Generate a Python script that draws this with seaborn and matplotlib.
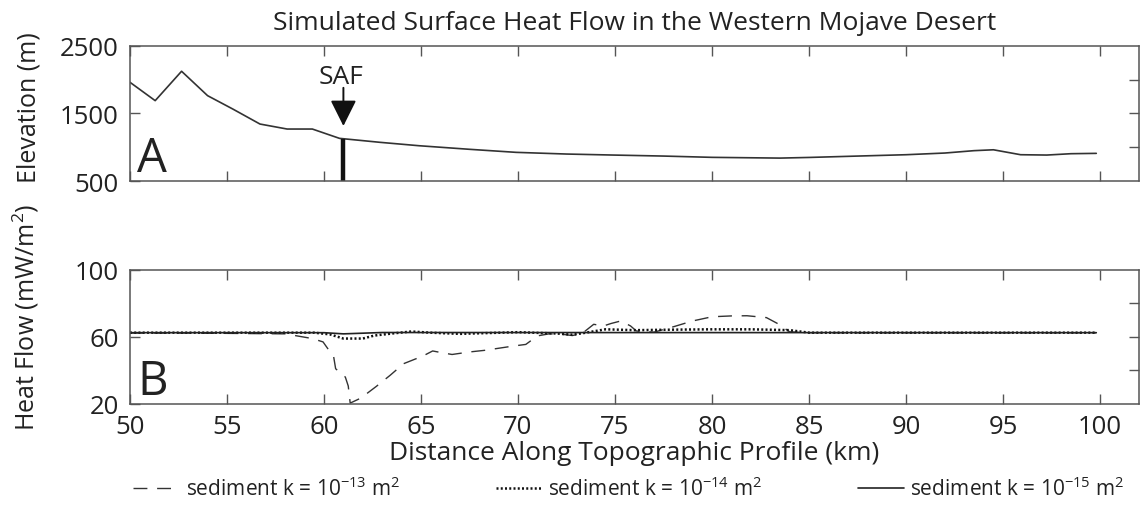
import numpy as np
import pandas as pd
import matplotlib
matplotlib.use("Agg")
import matplotlib.pyplot as plt
import seaborn as sns

# ---------------- data ----------------
elev_km = [50.0, 51.3, 52.66, 54.0, 55.3, 56.7, 58.1, 59.4, 60.8, 62.9, 64.9, 67.5,
           69.9, 72.5, 74.9, 77.5, 80.0, 83.5, 85.05, 87.5, 90.0, 92.0, 93.5, 94.5,
           95.9, 97.25, 98.5, 99.8]
elev_m = [1962, 1690, 2125, 1764, 1566, 1344, 1270, 1270, 1132, 1073, 1023, 970,
          925, 900, 885, 870, 851, 840, 850, 870, 890, 915, 950, 963,
          890, 885, 905, 910]

saf_km = 61.0
saf_elev = 1120

hf13_km = [50, 53, 56, 58, 59.4, 59.95, 60.5, 60.6, 61.1, 61.25, 61.35, 61.9, 62.7,
           63.4, 64.1, 65.1, 65.6, 66.1, 66.6, 67.5, 68.3, 69.8, 70.4, 71.0, 71.6,
           72.3, 72.8, 73.3, 73.9, 74.4, 74.8, 75.3, 75.8, 76.1, 77.0, 78.0, 79.0,
           80.0, 81.0, 81.8, 82.8, 83.4, 84.0, 85, 90, 95, 99.8]
hf13 = [62.3, 62.3, 62.0, 61.8, 59.0, 57.0, 48.0, 41.0, 36.0, 30.7, 20.5, 23.5, 30.5,
        37.0, 44.0, 48.6, 51.6, 50.5, 49.5, 51.0, 52.0, 54.6, 55.5, 60.6, 61.8,
        61.5, 60.8, 62.0, 67.5, 66.5, 68.0, 69.5, 66.5, 63.5, 62.8, 66.0, 69.5,
        72.0, 72.5, 72.6, 71.5, 67.8, 63.0, 62.5, 62.5, 62.5, 62.5]

hf14_km = [50, 59.5, 60.3, 61.0, 62.0, 62.6, 63.5, 64.5, 65.5, 67, 68.5, 70, 72,
           72.8, 73.5, 74.5, 76, 78, 80, 82, 84, 85, 99.8]
hf14 = [62.5, 62.5, 61.5, 59.0, 59.0, 60.8, 62.0, 63.2, 62.5, 61.8, 62.3, 62.8, 62.0,
        61.3, 62.5, 64.5, 64.0, 64.3, 64.5, 64.5, 64.0, 62.5, 62.5]

hf15_km = [50, 60, 61, 62, 63, 99.8]
hf15 = [62.5, 62.5, 61.8, 62.2, 62.6, 62.5]

labels = ["sediment k = 10$^{-13}$ m$^2$",
          "sediment k = 10$^{-14}$ m$^2$",
          "sediment k = 10$^{-15}$ m$^2$"]

title = "Simulated Surface Heat Flow in the Western Mojave Desert"
xlabel = "Distance Along Topographic Profile (km)"

# ---------------- style ----------------
sns.set_theme(style="ticks")
plt.rcParams["font.family"] = ["Open Sans", "DejaVu Sans"]
plt.rcParams["mathtext.default"] = "regular"
TXT = "#222222"
SP = "#555555"
FS = 19
TFS = 18.5
YFS = 18

fig = plt.figure(figsize=(11.44, 5.10), dpi=100)
ax1 = fig.add_axes([0.1136, 0.643, 0.882, 0.265])
ax2 = fig.add_axes([0.1136, 0.206, 0.882, 0.263])

def style_axis(ax, yl, ylab_ticks, inner_ticks):
    ax.set_xlim(50, 102)
    ax.set_ylim(*yl)
    ax.set_xticks(np.arange(50, 101, 5))
    ax.set_yticks(ylab_ticks)
    ax.tick_params(axis="both", direction="in", length=7, width=1, colors=SP,
                   labelcolor=TXT, labelsize=TFS, top=True, right=False)
    ax.tick_params(axis="x", pad=7)
    ax.tick_params(axis="y", pad=8)
    for s in ax.spines.values():
        s.set_visible(True)
        s.set_color(SP)
        s.set_linewidth(1.1)
    tw = ax.twinx()
    tw.set_ylim(*yl)
    tw.set_yticks(inner_ticks)
    tw.tick_params(axis="y", direction="in", length=7, width=1, colors=SP,
                   labelright=False, right=True)
    for s in tw.spines.values():
        s.set_visible(False)
    tw.grid(False)
    return tw

# ---- panel A ----
sns.lineplot(x=elev_km, y=elev_m, ax=ax1, color="#333333", linewidth=1.2)
style_axis(ax1, (500, 2500), [500, 1500, 2500], [1000, 1500, 2000])
ax1.set_xticklabels([])
ax1.vlines(saf_km, 500, saf_elev, color="#111111", linewidth=3.2)
ax1.annotate("", xy=(saf_km, 1315), xytext=(saf_km, 1880),
             arrowprops=dict(arrowstyle="-|>,head_width=0.4,head_length=0.8",
                             mutation_scale=20, shrinkA=0, shrinkB=0,
                             color="#111111", lw=1.4))
ax1.text(saf_km - 0.1, 1950, "SAF", ha="center", va="baseline", fontsize=FS, color=TXT)
ax1.text(0.007, 0.074, "A", transform=ax1.transAxes, ha="left", va="baseline",
         fontsize=34, color=TXT)
ax1.set_ylabel("Elevation (m)", fontsize=YFS, color=TXT)
ax1.set_xlabel("")
ax1.set_title(title, fontsize=FS, color=TXT, pad=12)

# ---- panel B ----
sns.lineplot(x=hf13_km, y=hf13, ax=ax2, color="#333333", linewidth=1.0,
             linestyle=(0, (10, 7)), label=labels[0])
sns.lineplot(x=hf14_km, y=hf14, ax=ax2, color="#111111", linewidth=1.8,
             linestyle=(0, (0.8, 0.9)), label=labels[1])
sns.lineplot(x=hf15_km, y=hf15, ax=ax2, color="#222222", linewidth=1.2,
             linestyle="-", label=labels[2])
style_axis(ax2, (20, 100), [20, 60, 100], [40, 60, 80])
ax2.text(0.007, 0.074, "B", transform=ax2.transAxes, ha="left", va="baseline",
         fontsize=34, color=TXT)
ax2.set_ylabel("Heat Flow (mW/m$^2$)", fontsize=YFS, color=TXT)
ax2.set_xlabel(xlabel, fontsize=FS, color=TXT, labelpad=1)

ax1.yaxis.set_label_coords(-0.088, 0.55)
ax2.yaxis.set_label_coords(-0.088, 0.65)

handles, labs = ax2.get_legend_handles_labels()
ax2.get_legend().remove()
fig.legend(handles, labs, loc="center", bbox_to_anchor=(0.55, 0.04), ncol=3,
           frameon=False, fontsize=15, columnspacing=4.6, handlelength=2.2,
           handletextpad=0.3, labelcolor=TXT)

fig.savefig("out.png", dpi=100)
